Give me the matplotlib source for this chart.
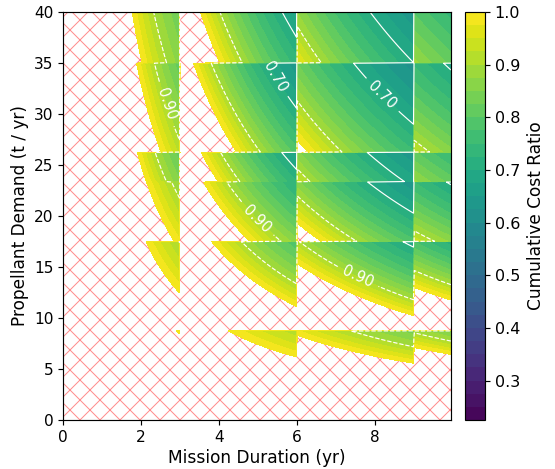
import numpy as np
import matplotlib
matplotlib.use('Agg')
import matplotlib.pyplot as plt
from matplotlib.patches import Rectangle

# band edges of the piecewise cost model
duration_edges = [0, 3, 6, 9, 10]                     # yr
demand_edges = [0, 8.75, 17.5, 23.33, 26.25, 35, 41]  # t / yr

# duration x demand product (t) where the cost ratio reaches 1.00 and 0.90,
# one row per demand band (bottom -> top), one column per duration band
product_at_100 = [
    [25.3, 37.0, 50.0, 64.0],
    [37.2, 66.7, 92.0, 117.0],
    [50.0, 84.0, 116.0, 147.0],
    [50.0, 93.0, 130.0, 180.0],
    [66.0, 117.0, 165.0, 217.0],
    [71.0, 141.0, 205.0, 270.0],
]
product_at_090 = [
    [33.7, 55.0, 64.5, 77.0],
    [52.0, 80.0, 106.0, 132.0],
    [65.0, 98.0, 132.0, 167.0],
    [62.0, 106.0, 148.0, 205.0],
    [82.0, 133.0, 188.0, 247.0],
    [93.0, 161.0, 232.0, 308.0],
]

b = np.array(product_at_100)
n = np.array(product_at_090)
# ratio = v + K / (duration * demand) inside each band
v = (0.9 * n - b) / (n - b)
K = b * (1 - v)

T = np.arange(0.01, 9.96, 0.02)
D = np.arange(0.025, 40.0, 0.05)
TT, DD = np.meshgrid(T, D)
ci = np.searchsorted(duration_edges, TT, side='right') - 1
ri = np.searchsorted(demand_edges, DD, side='right') - 1
R = v[ri, ci] + K[ri, ci] / (TT * DD)

plt.rcParams['hatch.linewidth'] = 0.6
plt.rcParams['font.size'] = 9
plt.rcParams['axes.linewidth'] = 0.7
for a in ('xtick', 'ytick'):
    plt.rcParams[a + '.major.size'] = 2.9
    plt.rcParams[a + '.major.pad'] = 2.9
    plt.rcParams[a + '.major.width'] = 0.7

fig = plt.figure(figsize=(555 / 120, 469 / 120), dpi=120)
ax = fig.add_axes([0.1135, 0.1045, 0.699, 0.87])

# hatched background = region where the ratio is above 1
ax.add_patch(Rectangle((0, 0), 9.95, 40, facecolor='white',
                       edgecolor=(1, 0, 0, 0.45), hatch='xx', linewidth=0, zorder=0))

levels = np.linspace(0.225, 1.0, 32)
cf = ax.contourf(TT, DD, R, levels=levels, cmap='viridis', zorder=1)
cs = ax.contour(TT, DD, R, levels=[0.7, 0.9], colors='white',
                linewidths=0.7, linestyles=['-', '--'], zorder=2)
ax.clabel(cs, fmt='%.2f', fontsize=8.8, inline=True,
          manual=[(2.67, 31), (5.5, 33.8), (8.3, 32.3), (5.0, 19.8), (7.56, 14.0)])

ax.set_xlim(0, 9.95)
ax.set_ylim(0, 40)
ax.set_xticks([0, 2, 4, 6, 8])
ax.set_yticks(range(0, 41, 5))
ax.set_xlabel('Mission Duration (yr)', fontsize=10.2, labelpad=2.5)
ax.set_ylabel('Propellant Demand (t / yr)', fontsize=10.2, labelpad=3)
ax.tick_params(labelsize=9.2)

cax = fig.add_axes([0.838, 0.1045, 0.036, 0.87])
cb = fig.colorbar(cf, cax=cax)
cb.set_ticks([0.3, 0.4, 0.5, 0.6, 0.7, 0.8, 0.9, 1.0])
cb.ax.tick_params(labelsize=9.6)
cb.outline.set_linewidth(0.7)
cb.set_label('Cumulative Cost Ratio', fontsize=10.2, labelpad=4)

fig.savefig('out.png', dpi=120)
